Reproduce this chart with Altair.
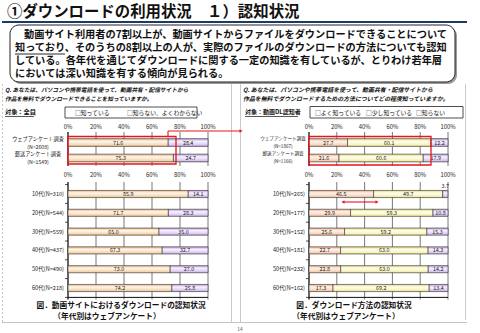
import altair as alt
import pandas as pd

FONT = "Noto Sans CJK JP"

# ---------------- data ----------------
tick_values = [0, 20, 40, 60, 80, 100]
tick_labels = ["0%", "20%", "40%", "60%", "80%", "100%"]

survey_names = ["ウェブアンケート調査", "郵送アンケート調査"]

left_series = ["知っている", "知らない、よくわからない"]
left_survey_n = ["(N=2608)", "(N=1549)"]
left_survey_know = [71.6, 75.3]
left_survey_unknown = [28.4, 24.7]
left_age_labels = ["10代(N=310)", "20代(N=544)", "30代(N=559)",
                   "40代(N=437)", "50代(N=490)", "60代(N=218)"]
left_age_know = [85.9, 71.7, 65.0, 67.3, 73.0, 74.2]
left_age_unknown = [14.1, 28.3, 35.0, 32.7, 27.0, 25.8]

right_series = ["よく知っている", "少し知っている", "知らない"]
right_survey_n = ["(N=1867)", "(N=1166)"]
right_survey_well = [27.7, 21.6]
right_survey_little = [60.1, 60.6]
right_survey_not = [12.2, 17.9]
right_age_labels = ["10代(N=265)", "20代(N=177)", "30代(N=152)",
                    "40代(N=181)", "50代(N=232)", "60代(N=162)"]
right_age_well = [46.5, 29.9, 25.6, 22.7, 22.8, 17.3]
right_age_little = [49.7, 59.3, 59.2, 63.0, 63.0, 69.2]
right_age_not = [3.7, 10.8, 15.3, 14.3, 14.2, 13.4]

title_text = "①ダウンロードの利用状況　１）認知状況"
summary_lines = [
    "動画サイト利用者の7割以上が、動画サイトからファイルをダウンロードできることについて",
    "知っており、そのうちの8割以上の人が、実際のファイルのダウンロードの方法についても認知",
    "している。各年代を通じてダウンロードに関する一定の知識を有しているが、とりわけ若年層",
    "においては深い知識を有する傾向が見られる。",
]
left_question = ["Q. あなたは、パソコンや携帯電話を使って、動画共有・配信サイトから",
                 "作品を無料でダウンロードできることを知っていますか。"]
right_question = ["Q. あなたは、パソコンや携帯電話を使って、動画共有・配信サイトから",
                  "作品を無料でダウンロードするための方法についてどの程度知っていますか。"]
left_caption = ["図．動画サイトにおけるダウンロードの認知状況", "（年代別はウェブアンケート）"]
right_caption = ["図．ダウンロード方法の認知状況", "（年代別はウェブアンケート）"]


# ---------------- helpers ----------------
def grad(c0, c1, c2, c3):
    return alt.LinearGradient(
        gradient="linear", x1=0, y1=0, x2=0, y2=1,
        stops=[alt.GradientStop(color=c0, offset=0),
               alt.GradientStop(color=c1, offset=0.35),
               alt.GradientStop(color=c2, offset=0.8),
               alt.GradientStop(color=c3, offset=1)])


G_ORANGE = grad("#E6AE7A", "#FFF7EC", "#F4D9B4", "#E2B07C")
G_SALMON = grad("#E8A580", "#FFF3EA", "#F6D5BF", "#E2A684")
G_YELLOW = grad("#DED57A", "#FFFEEC", "#F7F2BE", "#DAD07A")
G_PURPLE = grad("#B294D6", "#F8F2FE", "#DDCBF1", "#B59AD8")

one = pd.DataFrame({"k": [0]})
layers = []


def txt(s, x, y, size, weight="normal", align="left", style="normal", color="#111"):
    layers.append(alt.Chart(one).mark_text(
        text=s, font=FONT, fontSize=size, fontWeight=weight, align=align,
        fontStyle=style, color=color, baseline="middle"
    ).encode(x=alt.value(x), y=alt.value(y)))


def hline(x1, x2, y, color="#222", width=1.0, dash=None):
    kw = dict(color=color, strokeWidth=width)
    if dash:
        kw["strokeDash"] = dash
    layers.append(alt.Chart(one).mark_rule(**kw).encode(
        x=alt.value(x1), x2=alt.value(x2), y=alt.value(y)))


def vline(x, y1, y2, color="#222", width=1.0, dash=None):
    kw = dict(color=color, strokeWidth=width)
    if dash:
        kw["strokeDash"] = dash
    layers.append(alt.Chart(one).mark_rule(**kw).encode(
        x=alt.value(x), y=alt.value(y1), y2=alt.value(y2)))


def box(x1, x2, y1, y2, stroke="#222", width=1.0, fill="white", radius=0, fill_opacity=1.0):
    layers.append(alt.Chart(one).mark_rect(
        fill=fill, fillOpacity=fill_opacity, stroke=stroke, strokeWidth=width,
        cornerRadius=radius
    ).encode(x=alt.value(x1), x2=alt.value(x2), y=alt.value(y1), y2=alt.value(y2)))


def arrowhead(x, y, shape, size=14, color="#E8141B"):
    layers.append(alt.Chart(one).mark_point(
        shape=shape, size=size, filled=True, color=color, opacity=1
    ).encode(x=alt.value(x), y=alt.value(y)))


def stacked_df(cats, series, columns):
    rows = []
    for i, c in enumerate(cats):
        start = 0.0
        for s, col in zip(series, columns):
            v = col[i]
            rows.append({"cat": c, "series": s, "value": v,
                         "start": start, "end": start + v, "mid": start + v / 2})
            start += v
    return pd.DataFrame(rows)


ticks_df = pd.DataFrame({"v": tick_values, "label": tick_labels})


def panel(df, cats, series, grads, xr, yr, pad, grid_top, grid_bottom, tick_y, tick_size):
    xs = alt.Scale(domain=[0, 100], range=xr, nice=False, zero=False)
    ys = alt.Scale(domain=cats, range=yr, paddingInner=pad, paddingOuter=pad / 2)
    # grid lines
    layers.append(alt.Chart(ticks_df).mark_rule(color="#6a6a6a", strokeWidth=0.9).encode(
        x=alt.X("v:Q", scale=xs, axis=None),
        y=alt.value(grid_top), y2=alt.value(grid_bottom)))
    # 0% axis line
    layers.append(alt.Chart(ticks_df).transform_filter(alt.datum.v == 0).mark_rule(
        color="#111", strokeWidth=1.0).encode(
        x=alt.X("v:Q", scale=xs, axis=None),
        y=alt.value(grid_top), y2=alt.value(grid_bottom)))
    # tick labels
    layers.append(alt.Chart(ticks_df).mark_text(
        font=FONT, fontSize=tick_size, color="#222", baseline="middle").encode(
        x=alt.X("v:Q", scale=xs, axis=None), y=alt.value(tick_y), text="label:N"))
    # bars
    for s, g in zip(series, grads):
        layers.append(alt.Chart(df).transform_filter(alt.datum.series == s).mark_bar(
            color=g, stroke="#333", strokeWidth=0.6).encode(
            x=alt.X("start:Q", scale=xs, axis=None), x2="end:Q",
            y=alt.Y("cat:N", scale=ys, axis=None)))
    # value labels
    layers.append(alt.Chart(df).transform_filter(alt.datum.value >= 5).mark_text(
        font=FONT, fontSize=5.4, color="#222", baseline="middle").encode(
        x=alt.X("mid:Q", scale=xs, axis=None),
        y=alt.Y("cat:N", scale=ys, axis=None),
        text=alt.Text("value:Q", format=".1f")))
    layers.append(alt.Chart(df).transform_filter(alt.datum.value < 5).mark_text(
        font=FONT, fontSize=5.4, color="#222", baseline="middle", dy=-8.5).encode(
        x=alt.X("mid:Q", scale=xs, axis=None),
        y=alt.Y("cat:N", scale=ys, axis=None),
        text=alt.Text("value:Q", format=".1f")))
    return xs, ys


# ---------------- page decorations ----------------
txt(title_text, 7, 12, 15.4, weight="bold")
hline(2, 467, 22, color="#1B3A66", width=2.2)

box(12, 457, 27, 84, stroke="#9a9a9a", width=0, fill="#9a9a9a", radius=9)   # shadow
box(10, 455, 25, 82, stroke="#222", width=1.0, fill="white", radius=9)
txt(summary_lines[0], 24, 35, 10.2, weight="bold")
for i, line in enumerate(summary_lines[1:]):
    txt(line, 15, 48 + 13 * i, 10.2, weight="bold")
hline(15, 65, 54, color="#111", width=0.9)  # underline 知っており

# panel borders
vline(2.5, 84, 322, color="#b8b8b8", width=0.8, dash=[2, 2])
vline(231.5, 84, 322, color="#bdbdbd", width=0.8)
vline(240.5, 84, 322, color="#bdbdbd", width=0.8)
vline(465.5, 84, 320, color="#bdbdbd", width=0.8)
hline(2, 467, 322.5, color="#c4c4c4", width=1.0)

# ---------------- left panel ----------------
txt(left_question[0], 5, 90, 5.7, weight="bold", style="italic")
txt(left_question[1], 5, 99, 5.7, weight="bold", style="italic")
txt("対象：全員", 5, 112, 6.2, weight="bold")
hline(5, 34, 116.5, color="#111", width=0.7)
box(65, 197, 107, 118, stroke="#222", width=0.8)
txt("□知っている", 75, 112.5, 5.8)
txt("□知らない、よくわからない", 127, 112.5, 5.8)

lt_df = stacked_df(survey_names, left_series, [left_survey_know, left_survey_unknown])
xs, ys = panel(lt_df, survey_names, left_series, [G_ORANGE, G_PURPLE],
               [68, 208], [134.75, 165.75], 0.5, 132, 166, 127, 5.8)
lt_lab = pd.DataFrame({"cat": survey_names, "n": left_survey_n})
layers.append(alt.Chart(lt_lab).mark_text(font=FONT, fontSize=5.2, color="#222", dy=-3.8).encode(
    x=alt.value(38), y=alt.Y("cat:N", scale=ys, axis=None), text="cat:N"))
layers.append(alt.Chart(lt_lab).mark_text(font=FONT, fontSize=5.2, color="#222", dy=4.2).encode(
    x=alt.value(38), y=alt.Y("cat:N", scale=ys, axis=None), text="n:N"))

la_df = stacked_df(left_age_labels, left_series, [left_age_know, left_age_unknown])
xs, ys = panel(la_df, left_age_labels, left_series, [G_ORANGE, G_PURPLE],
               [68, 208], [184.6, 297.4], 0.62, 182, 299.5, 175, 5.8)
layers.append(alt.Chart(pd.DataFrame({"cat": left_age_labels})).mark_text(
    font=FONT, fontSize=5.6, color="#222", align="right", baseline="middle").encode(
    x=alt.value(64), y=alt.Y("cat:N", scale=ys, axis=None), text="cat:N"))
bnd = pd.DataFrame({"b": list(range(len(left_age_labels) + 1))})
layers.append(alt.Chart(bnd).mark_rule(color="#222", strokeWidth=0.8).encode(
    x=alt.value(65), x2=alt.value(68),
    y=alt.Y("b:Q", scale=alt.Scale(domain=[0, len(left_age_labels)], range=[184.6, 297.4]), axis=None)))
hline(68, 208, 297.4, color="#111", width=1.0)

# ---------------- right panel ----------------
txt(right_question[0], 243, 90, 5.9, weight="bold", style="italic")
txt(right_question[1], 243, 99, 5.9, weight="bold", style="italic")
txt("対象：動画DL認知者", 245, 112, 6.0, weight="bold")
hline(245, 298, 116.5, color="#111", width=0.7)
box(310, 463, 106.5, 118, stroke="#222", width=0.8)
txt("□よく知っている", 315, 112.5, 5.8)
txt("□少し知っている", 366, 112.5, 5.8)
txt("□知らない", 416, 112.5, 5.8)

rt_df = stacked_df(survey_names, right_series, [right_survey_well, right_survey_little, right_survey_not])
xs, ys = panel(rt_df, survey_names, right_series, [G_SALMON, G_YELLOW, G_PURPLE],
               [309, 448], [134.75, 165.75], 0.5, 132, 166, 127, 5.8)
rt_lab = pd.DataFrame({"cat": survey_names, "n": right_survey_n})
layers.append(alt.Chart(rt_lab).mark_text(font=FONT, fontSize=4.6, color="#222", dy=-3.8).encode(
    x=alt.value(283), y=alt.Y("cat:N", scale=ys, axis=None), text="cat:N"))
layers.append(alt.Chart(rt_lab).mark_text(font=FONT, fontSize=4.6, color="#222", dy=4.2).encode(
    x=alt.value(283), y=alt.Y("cat:N", scale=ys, axis=None), text="n:N"))

ra_df = stacked_df(right_age_labels, right_series, [right_age_well, right_age_little, right_age_not])
xs, ys = panel(ra_df, right_age_labels, right_series, [G_SALMON, G_YELLOW, G_PURPLE],
               [309, 448], [184.6, 297.4], 0.62, 182, 299.5, 175, 5.8)
layers.append(alt.Chart(pd.DataFrame({"cat": right_age_labels})).mark_text(
    font=FONT, fontSize=5.6, color="#222", align="right", baseline="middle").encode(
    x=alt.value(305), y=alt.Y("cat:N", scale=ys, axis=None), text="cat:N"))
bnd = pd.DataFrame({"b": list(range(len(right_age_labels) + 1))})
layers.append(alt.Chart(bnd).mark_rule(color="#222", strokeWidth=0.8).encode(
    x=alt.value(306), x2=alt.value(309),
    y=alt.Y("b:Q", scale=alt.Scale(domain=[0, len(right_age_labels)], range=[184.6, 297.4]), axis=None)))
hline(309, 448, 297.4, color="#111", width=1.0)

# ---------------- red annotations ----------------
RED = "#E8141B"
box(68, 176, 136.5, 164, stroke=RED, width=1.3, fill="white", fill_opacity=0)
box(309, 431, 136.5, 165, stroke=RED, width=1.3, fill="white", fill_opacity=0)
vline(168, 131, 136.5, color=RED, width=1.1)
hline(168, 240, 131, color=RED, width=1.1)
arrowhead(241, 131, "triangle-right", size=12)
hline(344, 376, 202, color=RED, width=1.1)
arrowhead(343, 202, "triangle-left", size=12)
arrowhead(377, 202, "triangle-right", size=12)

# ---------------- captions ----------------
txt(left_caption[0], 121, 306, 7.7, weight="bold", align="center")
txt(left_caption[1], 107, 317, 7.7, weight="bold", align="center")
txt(right_caption[0], 354, 306, 7.7, weight="bold", align="center")
txt(right_caption[1], 346, 317, 7.7, weight="bold", align="center")
txt("14", 240, 329.5, 4.8, color="#444", align="center")

chart = alt.layer(*layers).properties(
    width=480, height=333, padding=0,
    autosize=alt.AutoSizeParams(type="none"),
    background="white",
).resolve_scale(x="independent", y="independent").configure_view(stroke=None)

chart.save("out.html", embed_options={"renderer": "svg", "actions": False})
